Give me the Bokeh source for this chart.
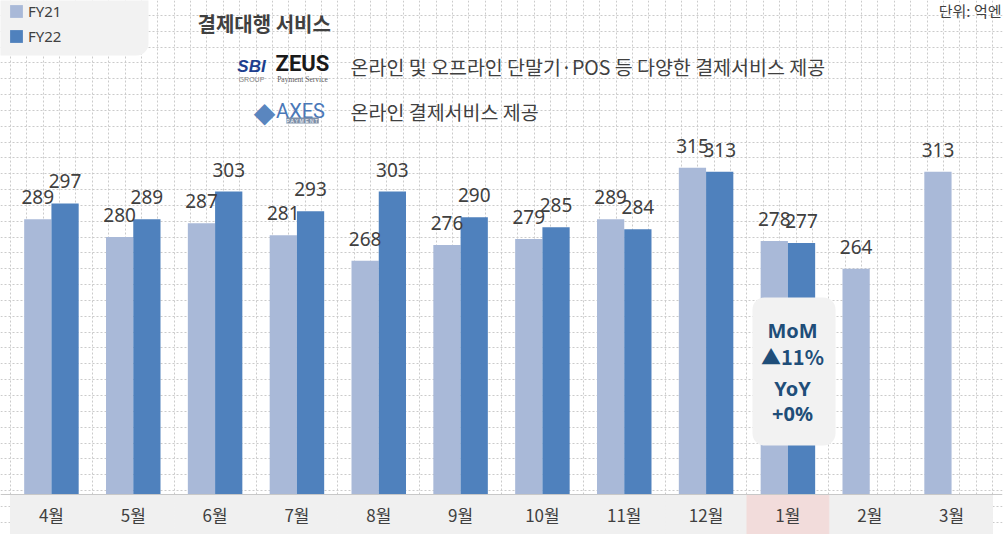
from bokeh.plotting import figure
from bokeh.models import (ColumnDataSource, FactorRange, Range1d, Grid, FixedTicker,
                          SingleIntervalTicker, BoxAnnotation, Label, Legend, LegendItem, Span)
from bokeh.transform import dodge
from bokeh.embed import file_html
from bokeh.resources import INLINE
from bokeh.core.properties import value

# ---------------- data ----------------
months = ["4월", "5월", "6월", "7월", "8월", "9월", "10월", "11월", "12월", "1월", "2월", "3월"]
fy21 = [289, 280, 287, 281, 268, 276, 279, 289, 315, 278, 264, 313]
fy22 = [297, 289, 303, 293, 303, 290, 285, 284, 313, 277]
series_names = ["FY21", "FY22"]
highlight_month = "1월"
mom_lines = ["MoM", "▲11%"]
yoy_lines = ["YoY", "+0%"]
title_text = "결제대행 서비스"
unit_text = "단위: 억엔"
desc_zeus = "온라인 및 오프라인 단말기·POS 등 다양한 결제서비스 제공"
desc_axes = "온라인 결제서비스 제공"

# ---------------- style ----------------
C21 = "#a9b9d8"
C22 = "#4f81bd"
TXT = "#404040"
NAVY = "#1f4e79"
KR = "Noto Sans CJK KR"
GRID = "#cbcbcb"
W, H = 1008, 534
BASE = 150          # value axis start (bar baseline)
Y0, Y1 = 129.8, 399.5
BW = 0.333

p = figure(width=W, height=H,
           x_range=FactorRange(factors=months, range_padding=0.0204),
           y_range=Range1d(Y0, Y1),
           output_backend="svg", toolbar_location=None,
           x_axis_location=None, y_axis_location=None,
           min_border=0, min_border_right=6)
p.outline_line_color = None
p.background_fill_color = "white"
for g in list(p.grid):
    g.visible = False

# dotted background grid
p.add_layout(Grid(dimension=1, ticker=SingleIntervalTicker(interval=8),
                  grid_line_color=GRID, grid_line_dash="2 2", grid_line_width=1))
p.add_layout(Grid(dimension=0, ticker=FixedTicker(ticks=[k * 0.2 for k in range(-2, 64)]),
                  grid_line_color=GRID, grid_line_dash="2 2", grid_line_width=1))

# category band below the baseline
p.vbar(x=months, top=BASE, bottom=Y0, width=1, fill_color="#f0f0f0", line_color="#f0f0f0")
p.vbar(x=[highlight_month], top=BASE, bottom=Y0, width=1,
       fill_color="#f2dcdb", line_color="#f2dcdb")
p.add_layout(Span(location=BASE, dimension="width", line_color="#c8c8c8", line_width=1))

# bars
src21 = ColumnDataSource(dict(month=months, val=fy21, lab=[str(v) for v in fy21]))
src22 = ColumnDataSource(dict(month=months[:len(fy22)], val=fy22, lab=[str(v) for v in fy22]))
r21 = p.vbar(x=dodge("month", -BW / 2, range=p.x_range), top="val", bottom=BASE, width=BW,
             source=src21, fill_color=C21, line_color=None)
r22 = p.vbar(x=dodge("month", BW / 2, range=p.x_range), top="val", bottom=BASE, width=BW,
             source=src22, fill_color=C22, line_color=None)

for src, off in ((src21, -BW / 2), (src22, BW / 2)):
    p.text(x=dodge("month", off, range=p.x_range), y="val", text="lab", source=src,
           text_align="center", text_baseline="middle", y_offset=-22,
           text_font=value("Noto Sans"), text_font_size="19px", text_color=TXT)

# month labels
p.text(x=months, y=BASE, text=months, y_offset=20, text_align="center",
       text_baseline="middle", text_font=value(KR), text_font_size="17px", text_color=TXT)

# legend background + legend
p.add_layout(BoxAnnotation(left=-30, right=148, bottom=479, top=570,
                           left_units="screen", right_units="screen",
                           bottom_units="screen", top_units="screen",
                           fill_color="#f2f2f2", fill_alpha=1, line_color=None,
                           border_radius=12))
legend = Legend(items=[LegendItem(label=series_names[0], renderers=[r21]),
                       LegendItem(label=series_names[1], renderers=[r22])],
                location=(8, 488), orientation="vertical",
                background_fill_alpha=0, border_line_color=None,
                label_text_font="Noto Sans", label_text_font_size="15px",
                label_text_color=TXT, glyph_width=16, glyph_height=16,
                label_height=16, spacing=5, padding=4, margin=0, label_standoff=4)
p.add_layout(legend)

def lab(x, y, text, size, color=TXT, font=KR, align="left", style="normal", **kw):
    p.add_layout(Label(x=x, y=y, x_units="screen", y_units="screen", text=text,
                       text_align=align, text_baseline="middle", text_font=font,
                       text_font_size=size, text_color=color, text_font_style=style, **kw))

# header texts
lab(197, 511, title_text, "20px", style="bold")
lab(1001, 524, unit_text, "15px", align="right")
lab(350, 468, desc_zeus, "19.5px")
lab(350, 423, desc_axes, "19.5px")

# ZEUS logo (text approximation)
lab(251, 468, "SBI", "17px", color="#1d3f8f", font="Liberation Sans", align="center",
    style="bold italic")
lab(251, 455, "GROUP", "7px", color="#7f7f7f", font="Liberation Sans", align="center")
lab(302, 471, "ZEUS", "22px", color="#1a1a1a", font="Roboto", align="center", style="bold")
lab(302, 455, "Payment Service", "7.5px", color="#595959", font="Liberation Serif",
    align="center")
# AXES logo (text approximation)
lab(264, 422, "◆", "28px", color="#5a86bf", font="DejaVu Sans", align="center")
lab(300, 424, "AXES", "20px", color="#4a78b8", font="Roboto", align="center")
lab(302, 414, "P A Y M E N T", "5px", color="white", font="Liberation Sans", align="center",
    background_fill_color="#7d8fa8")

# MoM / YoY call-out
p.add_layout(BoxAnnotation(left=752, right=835, bottom=89, top=237,
                           left_units="screen", right_units="screen",
                           bottom_units="screen", top_units="screen",
                           fill_color="#f2f2f2", fill_alpha=1, line_color=None,
                           border_radius=12))
callout_fonts = ["Noto Sans", KR, "Noto Sans", "Noto Sans"]
for txt, y, fnt in zip(mom_lines + yoy_lines, [204, 178, 146, 121], callout_fonts):
    lab(792, y, txt, "20px", color=NAVY, font=fnt, align="center", style="bold")

open("out.html", "w").write(file_html(p, INLINE))
